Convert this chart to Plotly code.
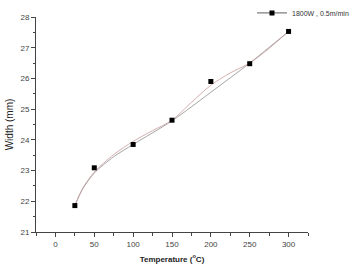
import plotly.graph_objects as go

# measured data
temp = [25, 50, 100, 150, 200, 250, 300]
width = [21.86, 23.09, 23.85, 24.64, 25.90, 26.48, 27.53]

# fitted curves
fit_a_x = [25, 35, 50, 75, 100, 150, 200, 250, 300]
fit_a_y = [21.86, 22.40, 22.92, 23.45, 23.85, 24.62, 25.55, 26.50, 27.53]
fit_b_x = [25, 35, 50, 75, 100, 125, 150, 175, 200, 225, 250, 275, 300]
fit_b_y = [21.86, 22.42, 22.95, 23.52, 23.95, 24.30, 24.64, 25.22, 25.78, 26.18, 26.50, 26.98, 27.53]

legend_name = "1800W , 0.5m/min"
x_ticks = [0, 50, 100, 150, 200, 250, 300]
y_ticks = [21, 22, 23, 24, 25, 26, 27, 28]

fig = go.Figure()
fig.add_trace(go.Scatter(x=fit_a_x, y=fit_a_y, mode="lines",
                         line=dict(color="#9a9a9a", width=0.9, shape="spline", smoothing=0.8),
                         showlegend=False, hoverinfo="skip"))
fig.add_trace(go.Scatter(x=fit_b_x, y=fit_b_y, mode="lines",
                         line=dict(color="#c99a9a", width=0.8, shape="spline", smoothing=0.8),
                         showlegend=False, hoverinfo="skip"))
fig.add_trace(go.Scatter(x=temp, y=width, mode="markers",
                         marker=dict(symbol="square", size=5, color="#000000"), showlegend=False))
fig.add_trace(go.Scatter(x=[None], y=[None], mode="lines+markers", name=legend_name,
                         line=dict(color="#333333", width=0.8),
                         marker=dict(symbol="square", size=5, color="#000000")))

font = "Liberation Sans, Arial, sans-serif"
fig.update_layout(
    width=354, height=269,
    margin=dict(l=36, r=46, t=17, b=37, autoexpand=False),
    paper_bgcolor="white", plot_bgcolor="white",
    font=dict(family=font, size=8, color="#333333"),
    showlegend=True,
    legend=dict(xref="container", yref="container", x=1.0, y=0.952, xanchor="right", yanchor="middle",
                font=dict(size=7, color="#333333"), bgcolor="rgba(0,0,0,0)", itemwidth=30,
                borderwidth=0),
    xaxis=dict(range=[-25, 325], tickvals=x_ticks, ticks="outside", ticklen=4, tickwidth=1, tickcolor="#444",
               showline=True, linecolor="#444", linewidth=1, showgrid=False, zeroline=False,
               minor=dict(dtick=25, ticks="outside", ticklen=3, tickcolor="#444", showgrid=False),
               title=dict(text="<b>Temperature (<sup>o</sup>C)</b>", font=dict(size=8, color="#222"), standoff=8),
               tickfont=dict(size=8, color="#444")),
    yaxis=dict(range=[21, 28], tickvals=y_ticks, ticks="outside", ticklen=4, tickwidth=1, tickcolor="#444",
               showline=True, linecolor="#444", linewidth=1, showgrid=False, zeroline=False,
               minor=dict(dtick=0.5, ticks="outside", ticklen=2, tickcolor="#444", showgrid=False),
               title=dict(text="Width (mm)", font=dict(size=10, color="#222"), standoff=4),
               tickfont=dict(size=8, color="#444")),
)
fig.write_html("out.html")
